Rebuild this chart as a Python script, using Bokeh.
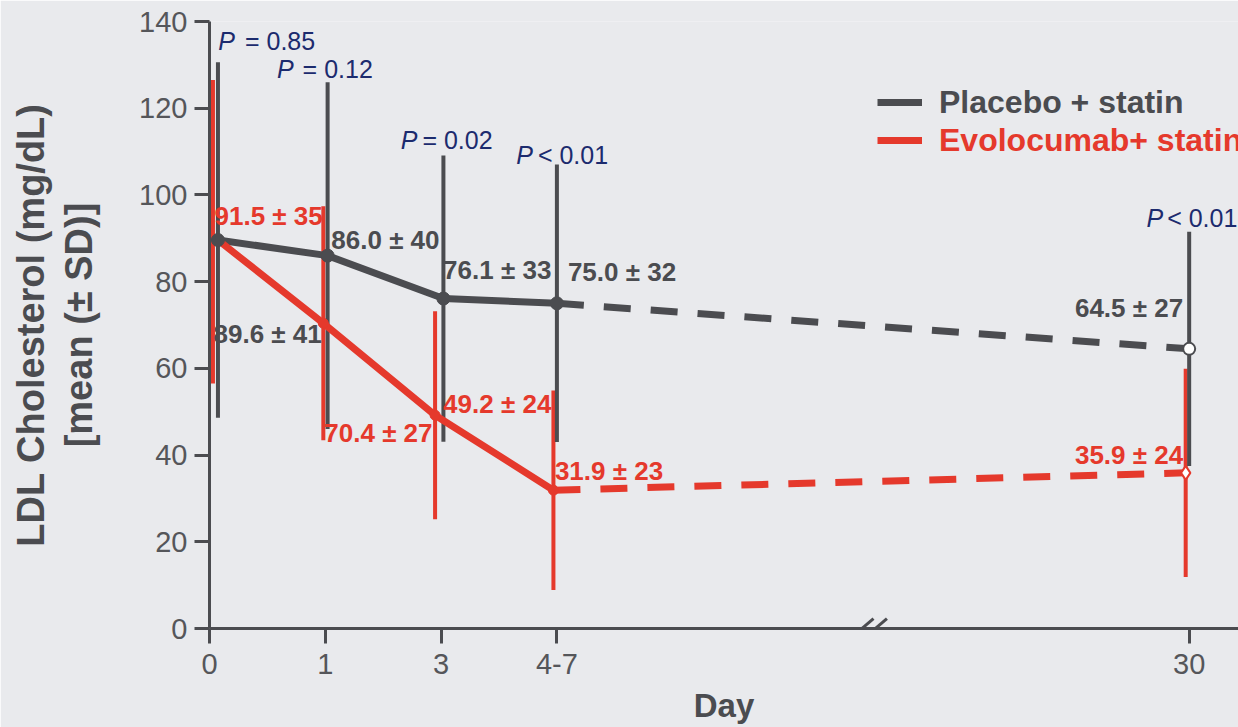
from bokeh.plotting import figure
from bokeh.models import Range1d, FixedTicker, Legend, LegendItem, Arrow
from bokeh.core.properties import value
from bokeh.embed import file_html
from bokeh.resources import INLINE

# ---------------- data ----------------
days = ["0", "1", "3", "4-7", "30"]
placebo_mean = [89.6, 86.0, 76.1, 75.0, 64.5]
placebo_sd = [41, 40, 33, 32, 27]
evo_mean = [91.5, 70.4, 49.2, 31.9, 35.9]
evo_sd = [35, 27, 24, 23, 24]
evo_line_start = 89.6          # red line is drawn from the shared baseline point
p_sign = ["=", "=", "=", "<", "<"]
p_value = ["0.85", "0.12", "0.02", "0.01", "0.01"]

# ---------------- style / layout ----------------
FONT = "Liberation Sans"
GREY = "#4b4c50"
TICK = "#55565a"
RED = "#e5392c"
NAVY = "#1c2b6e"
BG = "#e9eaed"

x_pos = [0, 1, 2, 3, 8.46]      # broken axis: day 30 placed after the break
x_break = 5.69
grey_dx = [0.073, 0.02, 0.02, 0.0, 0.0]
red_dx = [0.03, -0.017, -0.052, -0.03, -0.03]
gx = [a + b for a, b in zip(x_pos, grey_dx)]
rx = [a + b for a, b in zip(x_pos, red_dx)]

p = figure(width=1238, height=727, x_range=Range1d(0, 8.886), y_range=Range1d(0, 140),
           output_backend="svg", toolbar_location=None,
           min_border_left=209, min_border_right=0, min_border_top=21, min_border_bottom=99)
p.background_fill_color = BG
p.border_fill_color = BG
p.outline_line_color = None
p.xgrid.visible = False
p.ygrid.visible = False

for ax in (p.xaxis[0], p.yaxis[0]):
    ax.axis_line_color = GREY
    ax.axis_line_width = 3
    ax.major_tick_line_color = GREY
    ax.major_tick_line_width = 3
    ax.major_tick_out = 15
    ax.major_tick_in = 0
    ax.minor_tick_line_color = None
    ax.major_label_text_font = FONT
    ax.major_label_text_font_size = "29px"
    ax.major_label_text_color = TICK
    ax.axis_label_text_font = FONT
    ax.axis_label_text_font_style = "bold"
    ax.axis_label_text_color = GREY

p.yaxis.ticker = FixedTicker(ticks=list(range(0, 141, 20)))
p.yaxis.major_label_standoff = 7
p.yaxis.axis_label = "LDL Cholesterol (mg/dL)\n[mean (± SD)]"
p.yaxis.axis_label_text_font_size = "38px"
p.yaxis.axis_label_text_line_height = 1.15
p.yaxis.axis_label_standoff = 36

p.xaxis.ticker = FixedTicker(ticks=x_pos)
p.xaxis.major_label_overrides = {x: d for x, d in zip(x_pos, days)}
p.xaxis.major_label_standoff = 10
p.xaxis.axis_label = "Day"
p.xaxis.axis_label_text_font_size = "33px"
p.xaxis.axis_label_standoff = 10

# axis break marks
for off in (-0.056, 0.06):
    p.add_layout(Arrow(end=None, x_start=x_break + off - 0.1, y_start=-2.3,
                       x_end=x_break + off + 0.1, y_end=2.3,
                       line_color=GREY, line_width=3))

# error bars
p.segment(rx, [m - s for m, s in zip(evo_mean, evo_sd)], rx,
          [m + s for m, s in zip(evo_mean, evo_sd)], line_color=RED, line_width=4)
p.segment(gx, [m - s for m, s in zip(placebo_mean, placebo_sd)], gx,
          [m + s for m, s in zip(placebo_mean, placebo_sd)], line_color=GREY, line_width=4)

# lines
grey_solid = p.line(gx[:4], placebo_mean[:4], line_color=GREY, line_width=7)
p.line(gx[3:], placebo_mean[3:], line_color=GREY, line_width=7, line_dash="27 20")
red_solid = p.line([gx[0]] + rx[1:4], [evo_line_start] + evo_mean[1:4], line_color=RED, line_width=7)
p.line(rx[3:], evo_mean[3:], line_color=RED, line_width=7, line_dash="27 20")

# markers
p.scatter(rx[1:4], evo_mean[1:4], size=10, color=RED)
p.scatter(gx[:4], placebo_mean[:4], size=13, color=GREY)
p.scatter([gx[4]], [placebo_mean[4]], marker="circle", size=12, fill_color="white",
          line_color=GREY, line_width=2)
p.scatter([rx[4]], [evo_mean[4]], marker="diamond", size=14, fill_color="white",
          line_color=RED, line_width=2)

# value labels
g_off = [(4, 94, "left"), (6, -16, "left"), (2, -29, "left"), (11, -31, "left"), (-6, -41, "right")]
r_off = [(5, -16, "left"), (-1, 110, "left"), (2, -11, "left"), (-2, -19, "left"), (-6, -18, "right")]
for i in range(5):
    xo, yo, al = g_off[i]
    p.text(x=[x_pos[i]], y=[placebo_mean[i]], text=[f"{placebo_mean[i]:.1f} ± {placebo_sd[i]}"],
           x_offset=xo, y_offset=yo, text_align=al, text_baseline="middle",
           text_font=value(FONT), text_font_style="bold", text_font_size="26px", text_color=GREY)
    xo, yo, al = r_off[i]
    p.text(x=[x_pos[i]], y=[evo_mean[i]], text=[f"{evo_mean[i]:.1f} ± {evo_sd[i]}"],
           x_offset=xo, y_offset=yo, text_align=al, text_baseline="middle",
           text_font=value(FONT), text_font_style="bold", text_font_size="26px", text_color=RED)

# P values (italic P + upright rest)
p_px = [17, -34, -26, -24, -26]
p_rx = [27, -25, -21, -19, -22]
p_yoff = [-21, -13, -15, -10, -14]
for i in range(5):
    top = placebo_mean[i] + placebo_sd[i]
    p.text(x=[gx[i]], y=[top], text=["P"], x_offset=p_px[i], y_offset=p_yoff[i],
           text_align="right", text_baseline="middle", text_font=value(FONT),
           text_font_style="italic", text_font_size="25px", text_color=NAVY)
    p.text(x=[gx[i]], y=[top], text=[f"{p_sign[i]} {p_value[i]}"], x_offset=p_rx[i],
           y_offset=p_yoff[i], text_align="left", text_baseline="middle",
           text_font=value(FONT), text_font_size="25px", text_color=NAVY)

# legends (two, so each label keeps its own colour)
for rend, lab, col, vy in ((grey_solid, "Placebo + statin", GREY, 507),
                           (red_solid, "Evolocumab+ statin", RED, 469)):
    lg = Legend(items=[LegendItem(label=lab, renderers=[rend])], location=(668, vy),
                orientation="vertical", glyph_width=45, glyph_height=38, label_height=38,
                label_standoff=17, padding=0, margin=0, border_line_color=None,
                background_fill_alpha=0, label_text_font=FONT, label_text_font_style="bold",
                label_text_font_size="32px", label_text_color=col)
    p.add_layout(lg, "center")

open("out.html", "w").write(file_html(p, INLINE))
